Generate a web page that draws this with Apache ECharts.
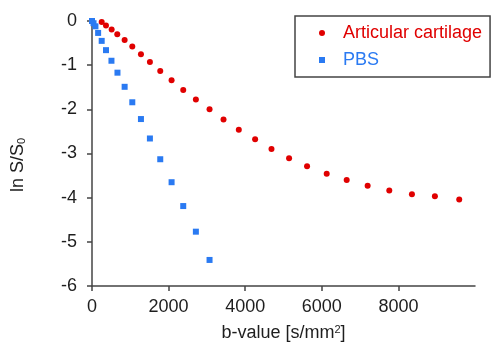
<!DOCTYPE html>
<html>
<head>
<meta charset="utf-8">
<script src="https://cdn.jsdelivr.net/npm/echarts@6/dist/echarts.min.js"></script>
<style>
  html, body { margin: 0; padding: 0; background: #fff; }
  #chart { width: 493px; height: 342px; }
</style>
</head>
<body>
<div id="chart"></div>
<script>
// b-values [s/mm^2] and ln S/S0
const cartilageB = [253, 365, 513, 660, 852, 1052, 1278, 1512, 1782, 2078, 2382, 2712, 3069, 3434, 3833, 4259, 4686, 5146, 5615, 6128, 6650, 7197, 7762, 8353, 8953, 9588];
const cartilageLnS = [-0.02, -0.10, -0.19, -0.30, -0.43, -0.58, -0.75, -0.93, -1.13, -1.34, -1.56, -1.78, -2.00, -2.23, -2.46, -2.68, -2.90, -3.11, -3.29, -3.46, -3.60, -3.73, -3.84, -3.92, -3.97, -4.04];
const pbsB = [0, 40, 90, 160, 253, 365, 508, 665, 852, 1052, 1278, 1512, 1782, 2078, 2382, 2712, 3069];
const pbsLnS = [0, -0.05, -0.12, -0.27, -0.45, -0.66, -0.90, -1.17, -1.49, -1.84, -2.22, -2.66, -3.13, -3.65, -4.19, -4.77, -5.41];
const xTicks = [0, 2000, 4000, 6000, 8000];

const pairs = (xs, ys) => xs.map((x, i) => [x, ys[i]]);

const red = "#e00000";
const blue = "#2a7af2";
const axisColor = "#444";
const labelColor = "#1e1e1e";
const font = "Liberation Sans, Arial, sans-serif";

const chart = echarts.init(document.getElementById("chart"));
chart.setOption({
  animation: false,
  backgroundColor: "#fff",
  grid: {
    left: 92,
    right: 18,
    top: 21,
    bottom: 56,
    outerBoundsMode: "none",
    containLabel: false,
  },
  legend: {
    orient: "vertical",
    left: 295,
    top: 16,
    itemWidth: 32,
    itemHeight: 6,
    itemGap: 7,
    padding: [7, 8, 7, 24],
    borderColor: "#444",
    borderWidth: 1.5,
    textStyle: {
      fontFamily: font,
      fontSize: 18,
      lineHeight: 20,
      color: "inherit",
    },
    data: [
      { name: "Articular cartilage", icon: "circle", textStyle: { color: red } },
      { name: "PBS", icon: "path://M0,0h10v10h-10z", textStyle: { color: blue } },
    ],
  },
  xAxis: {
    type: "value",
    min: 0,
    max: 10000,
    interval: 2000,
    name: "b-value [s/mm{sup|2}]",
    nameLocation: "middle",
    nameGap: 38,
    nameTextStyle: {
      fontFamily: font,
      fontSize: 18,
      color: labelColor,
      rich: {
        sup: { fontFamily: font, fontSize: 11, verticalAlign: "top", color: labelColor },
      },
    },
    axisLine: { show: true, onZero: false, lineStyle: { color: axisColor, width: 1.5 } },
    axisTick: { show: true, customValues: xTicks, length: 5, lineStyle: { color: axisColor, width: 1.5 } },
    axisLabel: {
      customValues: xTicks,
      formatter: (v) => String(v),
      margin: 12,
      fontFamily: font,
      fontSize: 18,
      color: labelColor,
    },
    splitLine: { show: false },
  },
  yAxis: {
    type: "value",
    min: -6,
    max: 0,
    interval: 1,
    axisLine: { show: true, onZero: false, lineStyle: { color: axisColor, width: 1.5 } },
    axisTick: { show: true, length: 5, lineStyle: { color: axisColor, width: 1.5 } },
    axisLabel: {
      margin: 15,
      fontFamily: font,
      fontSize: 18,
      color: labelColor,
    },
    splitLine: { show: false },
  },
  graphic: [
    {
      type: "text",
      x: 18,
      y: 165,
      rotation: Math.PI / 2,
      style: {
        text: "ln S/S{sub|0}",
        fontFamily: font,
        fontSize: 18,
        fill: labelColor,
        align: "center",
        verticalAlign: "middle",
        rich: {
          sub: { fontFamily: font, fontSize: 11, verticalAlign: "bottom", fill: labelColor },
        },
      },
    },
  ],
  series: [
    {
      name: "Articular cartilage",
      type: "scatter",
      symbol: "circle",
      symbolSize: 6,
      itemStyle: { color: red, opacity: 1 },
      data: pairs(cartilageB, cartilageLnS),
    },
    {
      name: "PBS",
      type: "scatter",
      symbol: "rect",
      symbolSize: 6,
      itemStyle: { color: blue, opacity: 1 },
      data: pairs(pbsB, pbsLnS),
    },
  ],
});
</script>
</body>
</html>
